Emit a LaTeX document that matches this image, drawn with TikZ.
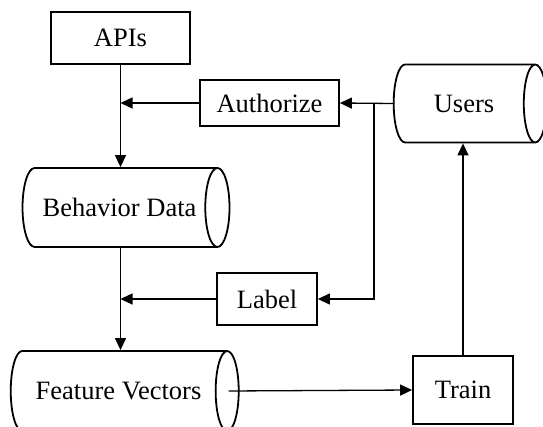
\documentclass[tikz,border=0pt]{standalone}
\usepackage{fontspec}
\setmainfont{Liberation Serif}
\usetikzlibrary{shapes.geometric,arrows.meta}

\begin{document}
\begin{tikzpicture}[x=1pt,y=-1pt]
    \pgfmathsetmacro{\lw}{1.8}	%box line
    \pgfmathsetmacro{\aw}{1.3}	%arrow line
    \tikzset{
        box/.style={draw, line width=\lw pt, rectangle, inner sep=0pt,
            font=\fontsize{26.5}{30}\selectfont},
        store/.style={draw, line width=\lw pt, cylinder, aspect=1.3, inner sep=0pt,
            font=\fontsize{26.5}{30}\selectfont},
        flow/.style={line width=\aw pt, -{Triangle[length=12pt,width=11pt]}},
        wire/.style={line width=\aw pt}
    };
    \useasboundingbox (0,0) rectangle (543,427);

    % boxes
    \node[box, minimum width=139pt, minimum height=52pt] (apis) at (120.5,38) {APIs};
    \node[box, minimum width=139pt, minimum height=46pt] (auth) at (269.5,103) {Authorize};
    \node[box, minimum width=100pt, minimum height=52pt] (label) at (267,299) {Label};
    \node[box, minimum width=100pt, minimum height=68pt] (train) at (463,390) {Train};

    % stores
    \node[store, minimum height=153pt, minimum width=78pt] (users) at (464,103.5) {Users};
    \node[store, minimum height=207pt, minimum width=79pt] (bdata) at (119.5,207.5) {Behavior Data};
    \node[store, minimum height=228pt, minimum width=80pt] (fvec) at (118.5,391) {Feature Vectors};

    \coordinate (split) at (374,103);

    \draw[flow] (apis.south) -- (apis.south |- bdata.north);
    \draw[flow] (auth.west) -- (auth.west -| apis.south);
    \draw[flow] (users.west) -- (auth.east);
    \draw[flow] (split) |- (label.east);
    \draw[flow] (label.west) -- (label.west -| apis.south);
    \draw[flow] (bdata.south -| apis.south) -- (apis.south |- fvec.north);
    \draw[flow] ([xshift=-11pt]fvec.top) -- (train.west);
    \draw[flow] (train.north) -- (train.north |- users.south);
\end{tikzpicture}
\end{document}
